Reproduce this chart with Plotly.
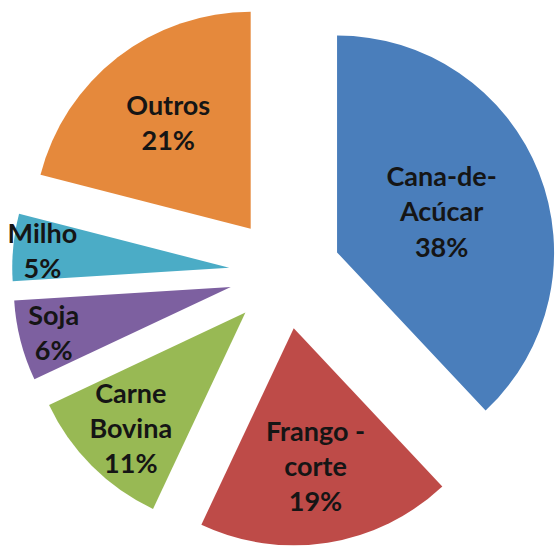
import plotly.graph_objects as go

# ---- data ----
categories = ["Cana-de-Acúcar", "Frango - corte", "Carne Bovina", "Soja", "Milho", "Outros"]
values = [38, 19, 11, 6, 5, 21]
label_lines = ["Cana-de-<br>Acúcar", "Frango -<br>corte", "Carne<br>Bovina", "Soja", "Milho", "Outros"]

# ---- styles / layout ----
colors = ["#4A7EBB", "#BE4B48", "#98B954", "#7D60A0", "#4BACC6", "#E5893C"]
FIG_W, FIG_H = 560, 546
PIE_CX, PIE_CY = 285, 273      # pie centre in pixels (from top-left)
PIE_HALF = 273                 # radius * (1 + explode)
EXPLODE = 0.258                # every slice pulled out by the same amount

fig = go.Figure(go.Pie(
    labels=categories,
    values=values,
    text=label_lines,
    sort=False,
    direction="clockwise",
    rotation=0,
    pull=[EXPLODE] * len(values),
    marker=dict(colors=colors, line=dict(width=0)),
    textposition="inside",
    texttemplate="%{text}<br>%{percent:.0%}",
    insidetextorientation="horizontal",
    textfont=dict(family="Lato", size=27, color="#151515", weight="bold"),
    domain=dict(
        x=[(PIE_CX - PIE_HALF) / FIG_W, (PIE_CX + PIE_HALF) / FIG_W],
        y=[max(0.0, 1 - (PIE_CY + PIE_HALF) / FIG_H), min(1.0, 1 - (PIE_CY - PIE_HALF) / FIG_H)],
    ),
    showlegend=False,
    hoverinfo="label+percent",
))

fig.update_layout(
    width=FIG_W, height=FIG_H,
    margin=dict(l=0, r=0, t=0, b=0),
    paper_bgcolor="white",
    plot_bgcolor="white",
    uniformtext=dict(minsize=27, mode="show"),
)

fig.write_html(
    "out.html",
    config={"displayModeBar": False},
    post_script="document.body.style.margin='0';",
)
